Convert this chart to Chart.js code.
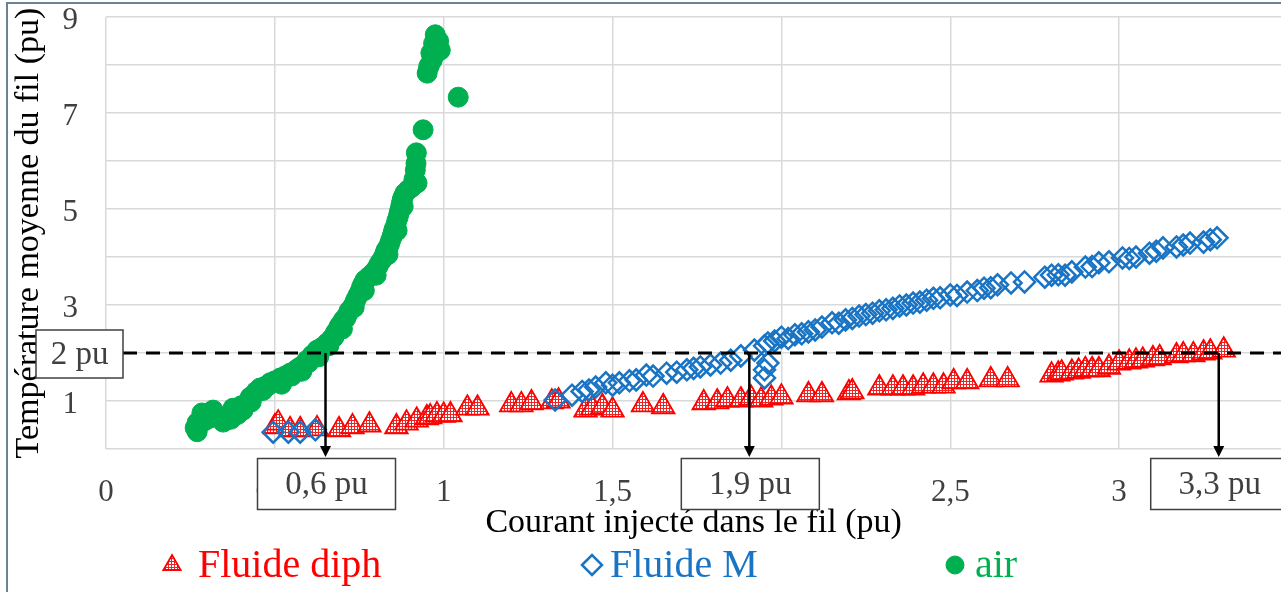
<!DOCTYPE html>
<html>
<head>
<meta charset="utf-8">
<script src="https://cdn.jsdelivr.net/npm/chart.js@4.4.1/dist/chart.umd.min.js"></script>
<style>
  html, body { margin: 0; padding: 0; background: #fff; overflow: hidden; }
  #wrap { position: relative; width: 1296px; height: 592px; }
</style>
</head>
<body>
<div id="wrap"><canvas id="tempChart"></canvas></div>
<script>
const seriesNames = ["Fluide diph", "Fluide M", "air"];

// air
const airX = [0.264, 0.27, 0.284, 0.30, 0.317, 0.33, 0.347, 0.36, 0.376, 0.39, 0.406, 0.427, 0.44, 0.456, 0.47,
  0.486, 0.50, 0.516, 0.53, 0.545, 0.56, 0.575, 0.595, 0.61, 0.625, 0.64, 0.655, 0.668, 0.679, 0.69, 0.703,
  0.715, 0.728, 0.738, 0.747, 0.757, 0.767, 0.78, 0.791, 0.805, 0.817, 0.826, 0.836, 0.843, 0.85, 0.858,
  0.865, 0.871, 0.877, 0.885, 0.91, 0.921, 0.916, 0.919, 0.939, 0.951, 0.955, 0.966, 0.975, 0.99, 0.97, 1.043,
  0.27, 0.29, 0.31, 0.34, 0.37, 0.40, 0.415, 0.43, 0.445, 0.465, 0.48, 0.51, 0.525, 0.55, 0.565, 0.585,
  0.60, 0.615, 0.635, 0.66, 0.675, 0.685, 0.695, 0.71, 0.72, 0.733, 0.742, 0.752, 0.762, 0.775, 0.785,
  0.798, 0.81, 0.822, 0.83, 0.84, 0.847, 0.853, 0.861, 0.868, 0.874, 0.88, 0.895, 0.905, 0.912, 0.918,
  0.958, 0.962, 0.98, 0.985, 0.972,
  0.52, 0.58, 0.63, 0.70, 0.735, 0.765, 0.80, 0.835, 0.862, 0.88];
const airY = [0.44, 0.36, 0.75, 0.62, 0.81, 0.70, 0.56, 0.68, 0.85, 0.72, 0.81, 1.08, 1.15, 1.27, 1.30,
  1.38, 1.42, 1.48, 1.52, 1.58, 1.63, 1.71, 1.85, 1.95, 2.06, 2.12, 2.21, 2.30, 2.42, 2.55, 2.69,
  2.80, 2.94, 3.08, 3.21, 3.38, 3.52, 3.60, 3.67, 3.80, 3.94, 4.08, 4.21, 4.35, 4.50, 4.66,
  4.83, 5.00, 5.19, 5.33, 5.50, 5.54, 5.81, 6.17, 6.65, 7.83, 7.95, 8.10, 8.63, 8.31, 8.45, 7.33,
  0.55, 0.58, 0.65, 0.66, 0.62, 0.90, 0.95, 0.98, 1.20, 1.22, 1.32, 1.40, 1.45, 1.52, 1.66, 1.75,
  1.80, 1.98, 2.08, 2.15, 2.33, 2.48, 2.60, 2.72, 2.88, 3.00, 3.14, 3.28, 3.45, 3.56, 3.62,
  3.72, 3.87, 4.00, 4.15, 4.28, 4.42, 4.58, 4.75, 4.92, 5.10, 5.25, 5.40, 5.45, 5.62, 5.95,
  8.00, 8.25, 8.40, 8.50, 8.20,
  1.35, 1.62, 1.92, 2.50, 2.95, 3.30, 3.62, 4.05, 4.55, 5.05];

// Fluide M
const fluideMX = [0.495, 0.54, 0.575, 0.62,
  1.33, 1.38, 1.41, 1.43, 1.45, 1.48, 1.50, 1.52, 1.55, 1.57, 1.60, 1.62, 1.66, 1.69, 1.72, 1.74, 1.76,
  1.79, 1.82, 1.85, 1.88, 1.92, 1.95, 1.95, 1.96, 1.95, 1.96, 1.98, 2.00, 2.02, 2.04, 2.06, 2.08, 2.10,
  2.12, 2.15, 2.17, 2.19, 2.21, 2.23, 2.25, 2.27, 2.29, 2.31, 2.33, 2.35, 2.37, 2.39, 2.41, 2.43, 2.45,
  2.47, 2.50, 2.52, 2.55, 2.58, 2.60, 2.62, 2.64, 2.68, 2.72, 2.78, 2.80, 2.82, 2.84, 2.86, 2.90, 2.92,
  2.94, 2.97, 3.01, 3.03, 3.05, 3.09, 3.11, 3.13, 3.17, 3.19, 3.21, 3.25, 3.27, 3.29];
const fluideMY = [0.35, 0.35, 0.35, 0.40,
  1.02, 1.12, 1.20, 1.23, 1.29, 1.38, 1.33, 1.38, 1.42, 1.44, 1.54, 1.52, 1.58, 1.60, 1.65, 1.68, 1.71,
  1.75, 1.79, 1.85, 1.94, 2.06, 1.48, 1.65, 1.79, 2.15, 2.21, 2.25, 2.33, 2.30, 2.38, 2.40, 2.44, 2.48,
  2.54, 2.63, 2.62, 2.69, 2.72, 2.77, 2.80, 2.83, 2.88, 2.90, 2.93, 2.98, 3.00, 3.04, 3.06, 3.10, 3.14,
  3.15, 3.21, 3.20, 3.27, 3.30, 3.35, 3.36, 3.42, 3.46, 3.48, 3.58, 3.62, 3.63, 3.62, 3.69, 3.79, 3.80,
  3.88, 3.90, 3.98, 3.97, 4.00, 4.08, 4.12, 4.19, 4.21, 4.25, 4.29, 4.31, 4.36, 4.40];

// Fluide diph
const diphX = [0.50, 0.51, 0.545, 0.575, 0.625, 0.69, 0.73, 0.78, 0.86, 0.89, 0.92, 0.95, 0.96, 0.98, 1.00,
  1.02, 1.07, 1.10, 1.20, 1.23, 1.26, 1.32, 1.34, 1.42, 1.44, 1.47, 1.50, 1.59, 1.65, 1.77, 1.81, 1.84,
  1.88, 1.91, 1.94, 1.97, 2.00, 2.08, 2.12, 2.20, 2.21, 2.29, 2.33, 2.36, 2.39, 2.42, 2.45, 2.48, 2.51,
  2.55, 2.62, 2.67, 2.80, 2.82, 2.83, 2.86, 2.88, 2.90, 2.92, 2.94, 2.97, 3.00, 3.03, 3.05, 3.07, 3.10,
  3.12, 3.17, 3.19, 3.22, 3.25, 3.27, 3.31];
const diphY = [0.46, 0.54, 0.40, 0.40, 0.42, 0.40, 0.46, 0.50, 0.46, 0.54, 0.60, 0.65, 0.67, 0.71, 0.70,
  0.71, 0.85, 0.85, 0.92, 0.92, 0.96, 0.98, 1.00, 0.81, 0.85, 0.88, 0.81, 0.92, 0.88, 0.96, 0.98, 1.02,
  1.02, 1.06, 1.02, 1.06, 1.08, 1.13, 1.13, 1.17, 1.19, 1.27, 1.27, 1.27, 1.27, 1.31, 1.31, 1.31, 1.40,
  1.40, 1.44, 1.44, 1.54, 1.56, 1.58, 1.60, 1.62, 1.65, 1.65, 1.65, 1.70, 1.79, 1.81, 1.83, 1.85, 1.88,
  1.90, 1.94, 1.96, 1.96, 2.00, 2.02, 2.06];

const yLabeledTicks = [1, 3, 5, 7, 9];
const levelValue = 2;
const levelLabel = "2 pu";
const markX = [0.65, 1.905, 3.295];
const markLabels = ["0,6 pu", "1,9 pu", "3,3 pu"];

const SERIF = "'Liberation Serif', 'Times New Roman', serif";
const RED = "#ff0000";
const BLUE = "#1a74c4";
const GREEN = "#00b050";

function toPoints(xs, ys) {
  return xs.map((x, i) => ({ x: x, y: ys[i] }));
}

// red dotted fill for triangles
function hatchPattern() {
  const c = document.createElement("canvas");
  c.width = 3;
  c.height = 3;
  const g = c.getContext("2d");
  g.fillStyle = "#ea2626";
  g.fillRect(0, 0, 3, 3);
  g.fillStyle = "#ffffff";
  g.fillRect(1, 1, 2, 2);
  return g.createPattern(c, "repeat");
}
const hatch = hatchPattern();

const framePlugin = {
  id: "frame",
  beforeDraw(chart) {
    const ctx = chart.ctx;
    ctx.save();
    ctx.fillStyle = "#ffffff";
    ctx.fillRect(0, 0, chart.width, chart.height);
    ctx.strokeStyle = "#6a8496";
    ctx.lineWidth = 2;
    ctx.beginPath();
    ctx.moveTo(7, chart.height + 5);
    ctx.lineTo(7, 3);
    ctx.lineTo(chart.width + 5, 3);
    ctx.stroke();
    ctx.restore();
  }
};

function labelBox(ctx, cx, cy, w, h, text) {
  ctx.fillStyle = "#ffffff";
  ctx.fillRect(cx - w / 2, cy - h / 2, w, h);
  ctx.strokeStyle = "#404040";
  ctx.lineWidth = 1.5;
  ctx.strokeRect(cx - w / 2, cy - h / 2, w, h);
  ctx.fillStyle = "#404040";
  ctx.font = "33px " + SERIF;
  ctx.textAlign = "center";
  ctx.textBaseline = "middle";
  ctx.fillText(text, cx, cy + 1);
}

const guidePlugin = {
  id: "guides",
  afterDatasetsDraw(chart) {
    const ctx = chart.ctx;
    const xs = chart.scales.x;
    const ys = chart.scales.y;
    const area = chart.chartArea;
    const ly = ys.getPixelForValue(levelValue);
    ctx.save();
    // dashed level
    ctx.strokeStyle = "#000000";
    ctx.lineWidth = 3;
    ctx.setLineDash([14, 9]);
    ctx.beginPath();
    ctx.moveTo(123, ly);
    ctx.lineTo(area.right, ly);
    ctx.stroke();
    ctx.setLineDash([]);
    // arrows down to the axis
    markX.forEach((v, i) => {
      const px = xs.getPixelForValue(v);
      const tip = area.bottom + 8;
      ctx.strokeStyle = "#000000";
      ctx.lineWidth = 2.5;
      ctx.beginPath();
      ctx.moveTo(px, ly);
      ctx.lineTo(px, tip - 8);
      ctx.stroke();
      ctx.fillStyle = "#000000";
      ctx.beginPath();
      ctx.moveTo(px - 5.5, tip - 11);
      ctx.lineTo(px + 5.5, tip - 11);
      ctx.lineTo(px, tip);
      ctx.closePath();
      ctx.fill();
      labelBox(ctx, px + 1, area.bottom + 35, 138, 51, markLabels[i]);
    });
    labelBox(ctx, 79.5, ly + 1, 87, 48, levelLabel);
    ctx.restore();
  }
};

const legendPlugin = {
  id: "bottomLegend",
  afterDraw(chart) {
    const ctx = chart.ctx;
    const y = 565;
    const symbolX = [172, 592, 955];
    const textX = [198, 610, 975];
    const colors = [RED, BLUE, GREEN];
    ctx.save();
    chart.data.datasets.forEach((ds) => {
      const k = seriesNames.indexOf(ds.label);
      ctx.fillStyle = ds.backgroundColor;
      ctx.strokeStyle = ds.borderColor;
      ctx.lineWidth = ds.borderWidth;
      Chart.helpers.drawPoint(ctx, {
        pointStyle: ds.pointStyle,
        radius: ds.legendRadius,
        rotation: 0,
        borderWidth: ds.borderWidth
      }, symbolX[k], y);
      ctx.fillStyle = colors[k];
      ctx.font = "40px " + SERIF;
      ctx.textAlign = "left";
      ctx.textBaseline = "middle";
      ctx.fillText(ds.label, textX[k], y + 1);
    });
    ctx.restore();
  }
};

new Chart(document.getElementById("tempChart"), {
  type: "scatter",
  data: {
    datasets: [
      {
        label: seriesNames[2],
        data: toPoints(airX, airY),
        pointStyle: "circle",
        pointRadius: 10,
        legendRadius: 9,
        backgroundColor: GREEN,
        borderColor: GREEN,
        borderWidth: 1,
      },
      {
        label: seriesNames[1],
        data: toPoints(fluideMX, fluideMY),
        pointStyle: "rectRot",
        pointRadius: 10.5,
        legendRadius: 10,
        backgroundColor: "rgba(0,0,0,0)",
        borderColor: BLUE,
        borderWidth: 2.5,
      },
      {
        label: seriesNames[0],
        data: toPoints(diphX, diphY),
        pointStyle: "triangle",
        pointRadius: 13,
        legendRadius: 10,
        backgroundColor: hatch,
        borderColor: RED,
        borderWidth: 1.8,
      },
    ],
  },
  options: {
    responsive: true,
    maintainAspectRatio: false,
    animation: false,
    events: [],
    layout: { padding: { top: 17, left: 0, right: 0, bottom: 0 } },
    plugins: {
      legend: { display: false },
      tooltip: { enabled: false },
    },
    scales: {
      x: {
        type: "linear",
        min: 0,
        max: 3.48,
        afterFit: (s) => { s.height = 143; s.paddingLeft = 0; s.paddingRight = 0; },
        ticks: {
          stepSize: 0.5,
          includeBounds: false,
          padding: 25,
          color: "#404040",
          font: { family: SERIF, size: 31 },
          maxRotation: 0,
          callback: (v) => String(v).replace(".", ","),
        },
        grid: { color: "#d9d9d9", lineWidth: 1.5, drawTicks: false },
        border: { display: false },
        title: {
          display: true,
          text: "Courant injecté dans le fil (pu)",
          color: "#000000",
          font: { family: SERIF, size: 34 },
          padding: { top: 0, bottom: 49 },
        },
      },
      y: {
        min: 0,
        max: 9,
        afterFit: (s) => { s.width = 106; s.paddingTop = 0; s.paddingBottom = 0; },
        ticks: {
          stepSize: 1,
          padding: 28,
          labelOffset: 4,
          color: "#404040",
          font: { family: SERIF, size: 31 },
          callback: (v) => (yLabeledTicks.includes(v) ? String(v) : ""),
        },
        grid: { color: "#d9d9d9", lineWidth: 1.5, drawTicks: false },
        border: { display: false },
        title: {
          display: true,
          text: "Température moyenne du fil (pu)",
          color: "#000000",
          font: { family: SERIF, size: 34 },
          padding: { top: 9, bottom: 0 },
        },
      },
    },
  },
  plugins: [framePlugin, guidePlugin, legendPlugin],
});
</script>
</body>
</html>
